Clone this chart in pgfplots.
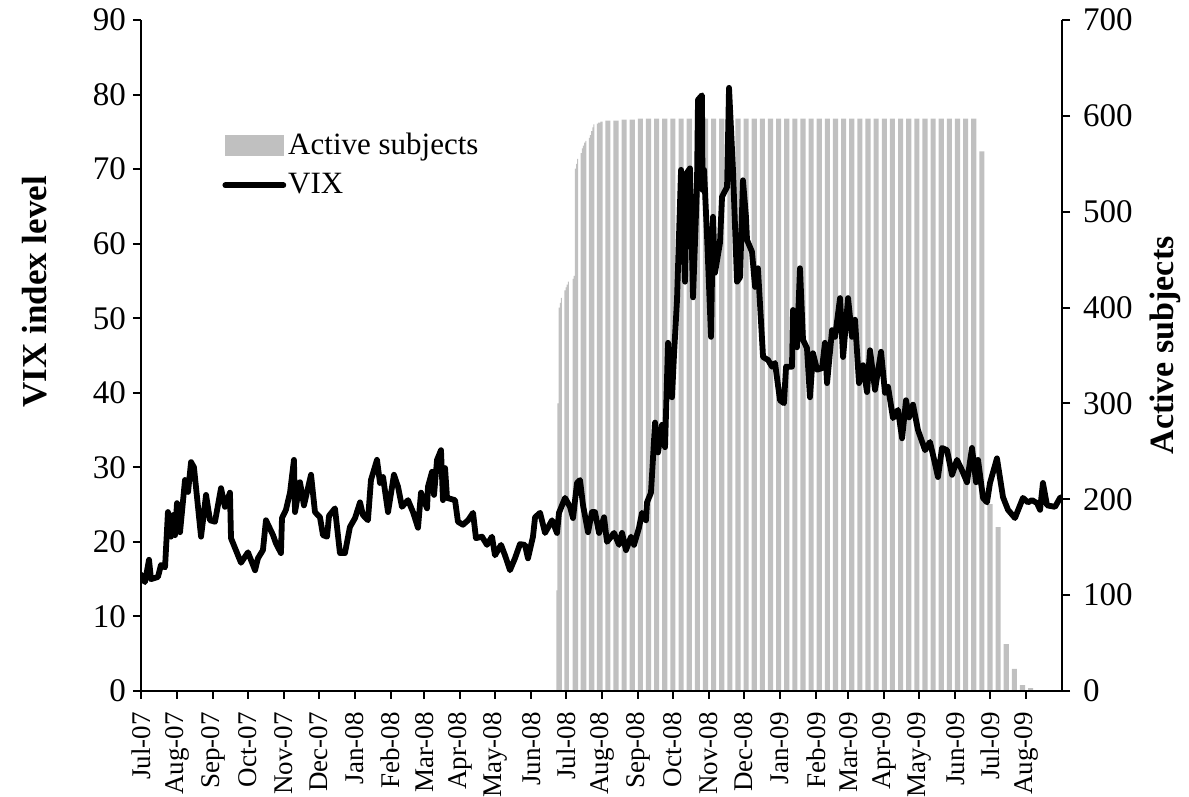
\documentclass[border=0pt]{standalone}
\usepackage{fontspec}
\setmainfont{Liberation Serif}
\usepackage{pgfplots}
\pgfplotsset{compat=1.18}
\definecolor{barcol}{RGB}{192,192,192}

\begin{document}
\begin{tikzpicture}
\pgfplotsset{
  every axis/.append style={
    width=460.5pt, height=335.5pt, scale only axis,
    xmin=0, xmax=793,
    axis line style={line width=1pt},
    every tick/.style={line width=1pt, black},
    major tick length=4pt,
    tick align=outside,
    /pgf/number format/assume math mode=true,
    yticklabel style={font=\fontsize{16.5}{18}\selectfont},
  },
}
% active subjects (right axis), drawn first so the line sits on top
\begin{axis}[
  axis x line=none,
  axis y line*=right,
  ymin=0, ymax=700, ytick={0,100,...,700},
  yticklabel style={xshift=3pt},
]
% ramp-up, daily
\addplot[ybar, bar width=0.88, bar shift=0pt, fill=barcol, draw=none] coordinates {
 (358,105) (359,300) (360,400) (361,405) (362,410)
 (365,418) (366,421) (367,424) (368,427)
 (372,430) (373,433) (374,545) (375,550) (376,555)
 (379,561) (380,566) (381,569) (382,572) (383,574)
 (386,577) (387,580) (388,584) (389,588) (390,591)
 (393,592) (394,593) (395,593) (396,594) (397,594)
};
% weekly blocks (Mon-Fri), centred on Wednesday
\addplot[ybar, bar width=4.4, bar shift=0pt, fill=barcol, draw=none] coordinates {
 (402,595) (409,595) (416,596) (423,596) (430,597) (437,597) (444,597)
 (451,597) (458,597) (465,597) (472,597) (479,597) (486,597) (493,597)
 (500,597) (507,597) (514,597) (521,597) (528,597) (535,597) (542,597)
 (549,597) (556,597) (563,597) (570,597) (577,597) (584,597) (591,597)
 (598,597) (605,597) (612,597) (619,597) (626,597) (633,597) (640,597)
 (647,597) (654,597) (661,597) (668,597) (675,597) (682,597) (689,597)
 (696,597) (703,597) (710,597) (717,597)
 (724,563) (731,195) (738,171) (745,49) (752,23) (759,6) (766,3) (773,1)
};
\coordinate (R) at (rel axis cs:1,0.515);
\end{axis}

% VIX (left axis)
\begin{axis}[
  axis x line*=bottom,
  axis y line*=left,
  ymin=0, ymax=90, ytick={0,10,...,90},
  xtick={0,31,62,92,123,153,184,215,244,275,305,336,366,397,428,458,489,519,550,581,609,640,670,701,731,762},
  xticklabels={Jul-07,Aug-07,Sep-07,Oct-07,Nov-07,Dec-07,Jan-08,Feb-08,Mar-08,Apr-08,May-08,Jun-08,Jul-08,Aug-08,Sep-08,Oct-08,Nov-08,Dec-08,Jan-09,Feb-09,Mar-09,Apr-09,May-09,Jun-09,Jul-09,Aug-09},
  xticklabel style={rotate=90, anchor=east, xshift=-3pt, font=\fontsize{13.5}{15}\selectfont},
  legend style={at={(rel axis cs:0.088,0.838)}, anchor=north west, draw=none, fill=none,
    font=\fontsize{15.5}{18}\selectfont, inner sep=0pt, row sep=4pt, nodes={inner xsep=1pt}},
  legend cell align=left,
]
\addlegendimage{legend image code/.code={\fill[barcol] (0pt,-5pt) rectangle (29pt,5pt);}}
\addlegendentry{Active subjects}
\addplot[black, line width=2.9pt, line join=round, line cap=round,
  legend image code/.code={\draw[black, line width=2.9pt] (0pt,0pt) -- (29pt,0pt);}] coordinates {
 (0,15.6)(3.4,14.6)(6.9,17.6)(8.6,15.0)(14.6,15.3)(17.2,16.9)(20.7,16.6)(23.2,24.0)
 (25.8,20.7)(27.6,23.6)(29.3,20.9)(31.0,25.2)(33.6,21.3)(37.9,28.3)(40.5,26.7)(43.1,30.7)
 (45.6,30.0)(51.7,20.7)(56.0,26.3)(59.4,22.9)(63.7,22.7)(68.9,27.2)(72.3,24.7)(76.6,26.6)
 (77.5,20.5)(80.9,19.2)(86.1,17.2)(92.1,18.6)(98.2,16.2)(100.7,17.8)(105.0,18.9)(107.6,22.9)
 (113.7,20.9)(116.2,19.8)(120.5,18.5)(121.4,23.2)(124.8,24.3)(128.3,26.6)(131.7,31.0)(132.6,24.0)
 (136.9,28.0)(140.3,24.9)(146.4,29.0)(149.8,24.0)(154.1,23.3)(156.7,20.9)(160.2,20.7)(161.9,23.5)
 (167.0,24.5)(171.3,18.5)(175.6,18.5)(179.9,22.0)(184.3,23.2)(188.6,25.3)(191.1,23.6)(195.4,22.9)
 (198.0,28.3)(203.2,31.0)(205.8,27.9)(208.4,28.7)(212.7,24.0)(217.8,29.0)(221.3,27.4)(224.7,24.7)
 (229.9,25.6)(234.2,24.0)(238.5,21.9)(241.1,26.6)(246.3,24.5)(247.1,27.4)(250.6,29.4)(252.3,26.3)
 (254.9,31.0)(258.3,32.3)(260.0,25.6)(261.8,29.9)(263.5,25.9)(270.4,25.6)(272.9,22.7)(277.2,22.3)
 (281.6,22.9)(285.9,23.9)(288.4,20.5)(293.6,20.7)(297.9,19.6)(302.2,20.7)(304.8,18.2)(310.0,19.6)
 (313.4,18.2)(317.7,16.2)(322.0,17.8)(326.3,19.7)(330.6,19.6)(333.2,17.8)(337.5,20.7)(339.3,23.3)
 (343.6,23.9)(347.9,21.2)(353.9,22.9)(358.2,21.2)(359.9,23.9)(365.1,25.9)(369.4,24.7)(372.0,23.2)
 (375.4,27.9)(378.0,28.3)(380.6,24.9)(384.9,21.3)(388.3,24.0)(390.9,24.0)(394.4,21.2)(398.7,23.3)
 (401.2,20.0)(407.3,21.2)(411.6,19.6)(414.2,21.2)(417.6,18.9)(421.9,20.7)(424.5,19.6)(428.8,21.9)
 (431.4,23.9)(434.8,22.9)(435.7,25.3)(439.1,26.6)(440.9,31.4)(442.6,36.0)(445.2,32.0)(448.6,35.7)
 (451.2,32.7)(453.8,46.7)(457.2,39.4)(459.0,45.3)(461.5,52.4)(465.0,69.9)(468.4,54.9)(470.1,69.5)
 (472.7,70.1)(475.3,52.8)(478.7,67.6)(479.6,79.3)(483.0,79.9)(483.5,67.2)(484.8,69.9)(487.4,60.9)
 (490.8,47.5)(492.5,63.6)(494.2,56.1)(498.5,60.1)(500.3,66.3)(504.6,67.6)(506.3,80.9)(509.7,69.9)
 (513.2,54.9)(515.8,55.5)(518.3,68.5)(520.9,63.6)(521.8,60.5)(526.1,58.9)(528.7,54.2)(531.2,56.7)
 (535.6,44.8)(539.9,44.4)(543.3,43.5)(545.9,44.0)(550.2,39.0)(553.6,38.6)(555.4,43.5)(560.5,43.5)
 (561.4,51.1)(564.8,46.1)(567.4,56.7)(570.0,47.1)(573.4,46.0)(576.0,39.4)(578.6,45.3)(582.1,43.1)
 (586.4,43.3)(588.9,46.7)(590.7,41.3)(595.0,48.4)(597.6,47.5)(601.9,52.7)(604.5,44.8)(608.8,52.7)
 (612.2,47.5)(614.8,49.8)(618.2,41.3)(621.7,43.7)(625.1,40.1)(627.7,45.7)(632.0,40.4)(637.2,45.5)
 (640.6,40.0)(643.2,40.8)(647.5,36.6)(651.8,37.7)(655.3,33.9)(658.7,39.0)(661.3,36.7)(664.7,38.4)
 (669.0,35.0)(675.1,32.3)(679.3,33.4)(681.9,31.7)(686.2,28.7)(689.7,32.6)(694.0,32.3)(698.3,29.0)
 (702.6,31.0)(706.9,29.6)(711.2,28.0)(715.5,32.6)(719.0,28.0)(720.7,31.0)(725.0,25.9)(728.4,25.3)
 (731.0,27.9)(737.0,31.2)(742.2,26.0)(746.5,24.3)(752.5,23.2)(759.4,25.9)(763.7,25.3)(767.2,25.6)
 (771.5,25.2)(774.1,24.3)(776.6,27.9)(780.1,24.9)(787.0,24.7)(791.3,25.9)(793,26.0)
};
\addlegendentry{VIX}
\coordinate (L) at (rel axis cs:0,0.595);
\coordinate (O) at (rel axis cs:0,0);
\end{axis}

\node[rotate=90, font=\fontsize{17.5}{20}\selectfont\bfseries] at ([xshift=-53pt]L) {VIX index level};
\node[rotate=90, font=\fontsize{17}{20}\selectfont\bfseries] at ([xshift=51.5pt]R) {Active subjects};

\pgfresetboundingbox
\path[use as bounding box] ([shift={(-70.5pt,-53pt)}]O) rectangle ([shift={(524pt,345.5pt)}]O);
\end{tikzpicture}
\end{document}
